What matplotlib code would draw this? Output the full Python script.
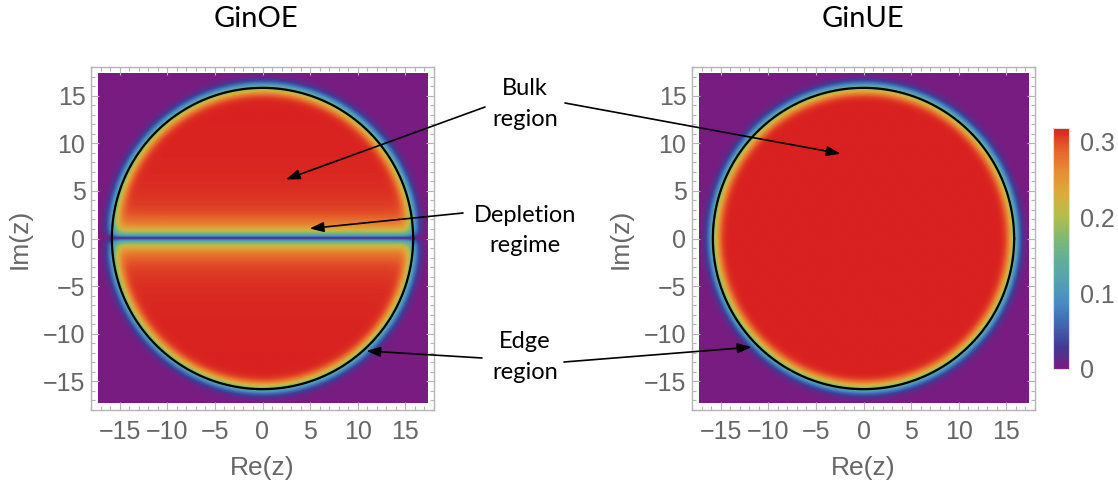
import numpy as np
import matplotlib.pyplot as plt
from matplotlib.colors import LinearSegmentedColormap
from math import erfc

# Parameters
N_MATRIX = 250                 # matrix size, circle radius sqrt(N)
RHO_MAX = 1 / np.pi            # bulk density (top of colour bar)
EDGE_WIDTH = 0.62              # width of the edge fall-off
DEPLETION_SCALE = 1.5          # width of the GinOE depletion strip
DATA_LIM = 17.3                # half-width of the density image
AXIS_LIM = 18.0

titles = ['GinOE', 'GinUE']
ticks = [-15, -10, -5, 0, 5, 10, 15]
cbar_ticks = [0, 0.1, 0.2, 0.3]
cbar_labels = ['0', '0.1', '0.2', '0.3']

# annotation labels: (line1, line2)
labels = [('Bulk', 'region'), ('Depletion', 'regime'), ('Edge', 'region')]
# arrow heads in data coords (panel, x, y) and tails in figure pixels
arrow_heads = [(0, 2.45, 6.2), (1, -2.4, 8.9), (0, 4.95, 1.05),
               (0, 10.9, -11.8), (1, -11.75, -11.4)]
arrow_tails = [(485, 107), (565, 103), (463, 213), (482, 358), (564, 362)]

tol_rainbow = ['#781C81', '#413B93', '#4065B1', '#488BC2', '#55A1B1', '#63AD99',
               '#7FB972', '#B5BD4C', '#D9AD3C', '#E68E34', '#E6642C', '#D92120']
cmap = LinearSegmentedColormap.from_list('rainbow_tol', tol_rainbow)

W, H = 1118, 487
fig = plt.figure(figsize=(W / 100, H / 100), dpi=100)


def px(x, y):
    return x / W, 1 - y / H


# density fields
g = np.linspace(-DATA_LIM, DATA_LIM, 800)
X, Y = np.meshgrid(g, g)
R = np.sqrt(X**2 + Y**2)
verfc = np.vectorize(erfc)
edge = 0.5 * verfc((R - np.sqrt(N_MATRIX)) / (EDGE_WIDTH * np.sqrt(2)))
ys = np.abs(g) / DEPLETION_SCALE
dep = np.sqrt(2 * np.pi) * ys * np.exp(2 * ys**2) * verfc(np.sqrt(2) * ys)
dep = np.nan_to_num(dep, nan=1.0)
dep = np.minimum(dep, 1.0)
rho_ue = RHO_MAX * edge
rho_oe = RHO_MAX * edge * dep[:, None]

gray = '#666666'
frame = '#b4b4b4'
axes = []
for i, (left, rho) in enumerate([(91, rho_oe), (692, rho_ue)]):
    ax = fig.add_axes([left / W, 77 / H, 343 / W, 343 / H])
    im = ax.imshow(rho, extent=[-DATA_LIM, DATA_LIM, -DATA_LIM, DATA_LIM],
                   origin='lower', cmap=cmap, vmin=0, vmax=RHO_MAX,
                   interpolation='bilinear')
    t = np.linspace(0, 2 * np.pi, 400)
    ax.plot(np.sqrt(N_MATRIX) * np.cos(t), np.sqrt(N_MATRIX) * np.sin(t),
            color='black', lw=1.6)
    ax.set_xlim(-AXIS_LIM, AXIS_LIM)
    ax.set_ylim(-AXIS_LIM, AXIS_LIM)
    ax.set_xticks(ticks)
    ax.set_yticks(ticks)
    ax.set_xticks(np.arange(-18, 19, 1), minor=True)
    ax.set_yticks(np.arange(-18, 19, 1), minor=True)
    ax.tick_params(which='both', direction='in', top=True, right=True,
                   color=frame, width=0.8, labelcolor=gray, labelsize=18,
                   labelfontfamily='Liberation Sans')
    ax.tick_params(which='major', length=6)
    ax.tick_params(axis='x', which='major', pad=7)
    ax.tick_params(axis='y', which='major', pad=4)
    ax.tick_params(which='minor', length=3)
    for s in ax.spines.values():
        s.set_color(frame)
        s.set_linewidth(1.0)
    ax.set_xlabel('Re(z)', color=gray, fontsize=19, family='Liberation Sans',
                  labelpad=9)
    ax.set_ylabel('Im(z)', color=gray, fontsize=19, family='Liberation Sans',
                  labelpad=8)
    axes.append(ax)

fig.text(*px(256, 19), titles[0], ha='center', va='center', fontsize=21,
         family='Lato')
fig.text(*px(863, 19), titles[1], ha='center', va='center', fontsize=21,
         family='Lato')

# colour bar
cax = fig.add_axes([1053 / W, 118 / H, 16 / W, 241 / H])
cb = fig.colorbar(im, cax=cax, ticks=cbar_ticks)
cb.ax.set_yticklabels(cbar_labels)
cb.ax.tick_params(length=0, pad=8, labelcolor=gray, labelsize=18,
                  labelfontfamily='Liberation Sans')
cb.outline.set_edgecolor('#dddddd')

# annotation texts
baselines = [(95, 126), (222, 252), (348, 379)]
for (l1, l2), (b1, b2) in zip(labels, baselines):
    fig.text(*px(525, b1), l1, ha='center', va='baseline', fontsize=17,
             family='Lato')
    fig.text(*px(525, b2), l2, ha='center', va='baseline', fontsize=17,
             family='Lato')

for (p, hx, hy), (tx, ty) in zip(arrow_heads, arrow_tails):
    axes[p].annotate('', xy=(hx, hy), xycoords='data',
                     xytext=px(tx, ty), textcoords='figure fraction',
                     annotation_clip=False,
                     arrowprops=dict(arrowstyle='-|>,head_length=0.7,head_width=0.25',
                                     color='black', lw=1.2, shrinkA=0, shrinkB=0,
                                     mutation_scale=12))

fig.savefig('out.png', dpi=100)
